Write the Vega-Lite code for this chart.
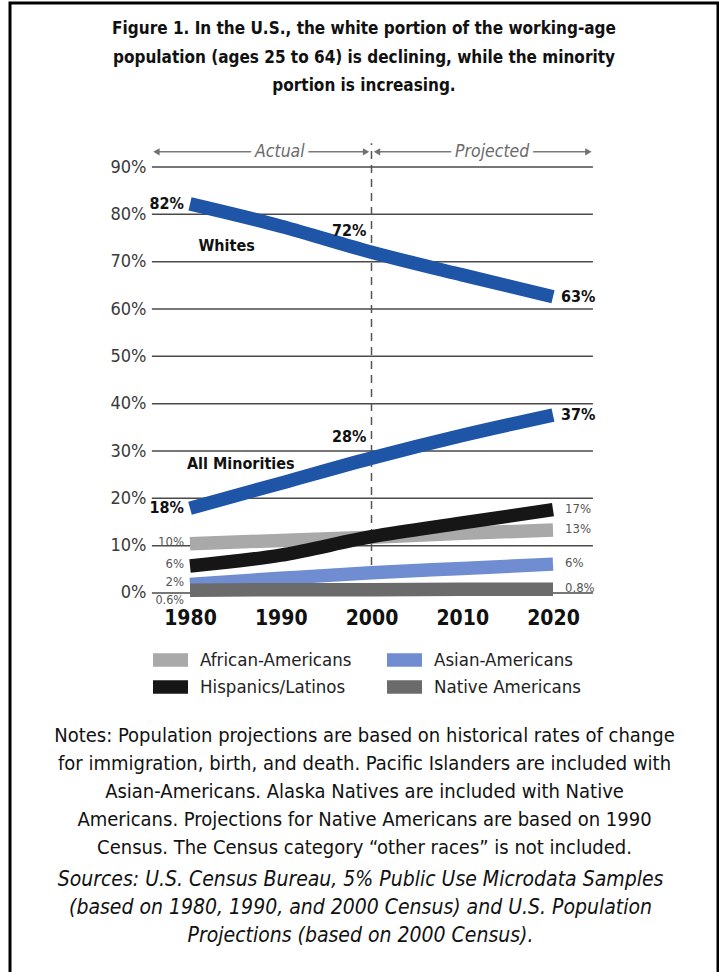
{
  "$schema": "https://vega.github.io/schema/vega-lite/v6.json",
  "width": 708,
  "height": 975,
  "autosize": "none",
  "padding": {"left": 10, "top": 3, "right": 1, "bottom": 0},
  "background": "white",
  "title": {
    "text": [
      "Figure 1. In the U.S., the white portion of the working-age",
      "population (ages 25 to 64) is declining, while the minority",
      "portion is increasing."
    ],
    "offset": -92,
    "anchor": "middle",
    "fontSize": 17,
    "fontWeight": "bold",
    "lineHeight": 28.5,
    "color": "#111111"
  },
  "datasets": {
    "shares": [
      {"series": "Whites", "year": 1980, "pct": 82.2, "label": "82%"},
      {"series": "Whites", "year": 1990, "pct": 77.5},
      {"series": "Whites", "year": 2000, "pct": 72, "label": "72%"},
      {"series": "Whites", "year": 2010, "pct": 67.2},
      {"series": "Whites", "year": 2020, "pct": 62.6, "label": "63%"},
      {"series": "All Minorities", "year": 1980, "pct": 17.9, "label": "18%"},
      {"series": "All Minorities", "year": 1990, "pct": 23.2},
      {"series": "All Minorities", "year": 2000, "pct": 28.5, "label": "28%"},
      {"series": "All Minorities", "year": 2010, "pct": 33.3},
      {"series": "All Minorities", "year": 2020, "pct": 37.6, "label": "37%"},
      {"series": "African-Americans", "year": 1980, "pct": 10.4, "label": "10%"},
      {"series": "African-Americans", "year": 1990, "pct": 11.1},
      {"series": "African-Americans", "year": 2000, "pct": 11.8},
      {"series": "African-Americans", "year": 2010, "pct": 12.6},
      {"series": "African-Americans", "year": 2020, "pct": 13.3, "label": "13%"},
      {"series": "Hispanics/Latinos", "year": 1980, "pct": 5.7, "label": "6%"},
      {"series": "Hispanics/Latinos", "year": 1990, "pct": 8},
      {"series": "Hispanics/Latinos", "year": 2000, "pct": 11.9},
      {"series": "Hispanics/Latinos", "year": 2010, "pct": 14.8},
      {"series": "Hispanics/Latinos", "year": 2020, "pct": 17.6, "label": "17%"},
      {"series": "Asian-Americans", "year": 1980, "pct": 1.8, "label": "2%"},
      {"series": "Asian-Americans", "year": 1990, "pct": 3.1},
      {"series": "Asian-Americans", "year": 2000, "pct": 4.3},
      {"series": "Asian-Americans", "year": 2010, "pct": 5.2},
      {"series": "Asian-Americans", "year": 2020, "pct": 6.1, "label": "6%"},
      {"series": "Native Americans", "year": 1980, "pct": 0.6, "label": "0.6%"},
      {"series": "Native Americans", "year": 1990, "pct": 0.7},
      {"series": "Native Americans", "year": 2000, "pct": 0.7},
      {"series": "Native Americans", "year": 2010, "pct": 0.8},
      {"series": "Native Americans", "year": 2020, "pct": 0.8, "label": "0.8%"}
    ],
    "grid": [
      {"pct": 0}, {"pct": 10}, {"pct": 20}, {"pct": 30}, {"pct": 40},
      {"pct": 50}, {"pct": 60}, {"pct": 70}, {"pct": 80}, {"pct": 90}
    ],
    "periods": [
      {"period": "Actual", "from": 1976.3, "to": 1999.4, "mid": 1989.9},
      {"period": "Projected", "from": 2000.6, "to": 2023.9, "mid": 2013.3}
    ]
  },
  "layer": [
    {
      "data": {"name": "periods"},
      "mark": {"type": "rule", "color": "#7a7a7a", "strokeWidth": 1.5},
      "encoding": {
        "x": {"field": "from", "type": "quantitative", "scale": {"domain": [1960.165, 2038.182], "nice": false, "zero": false}},
        "x2": {"field": "to"},
        "y": {"datum": 93.2, "type": "quantitative", "scale": {"domain": [-81.34, 124.65], "nice": false, "zero": false}}
      }
    },
    {
      "data": {"name": "periods"},
      "mark": {"type": "text", "fontSize": 17.5, "fontStyle": "italic", "color": "white", "stroke": "white", "strokeWidth": 10, "baseline": "middle"},
      "encoding": {
        "x": {"field": "mid", "type": "quantitative", "scale": {"domain": [1960.165, 2038.182], "nice": false, "zero": false}},
        "y": {"datum": 93.2, "type": "quantitative", "scale": {"domain": [-81.34, 124.65], "nice": false, "zero": false}},
        "text": {"field": "period"}
      }
    },
    {
      "data": {"name": "periods"},
      "mark": {"type": "text", "fontSize": 17.5, "fontStyle": "italic", "color": "#6a6a6a", "baseline": "middle"},
      "encoding": {
        "x": {"field": "mid", "type": "quantitative", "scale": {"domain": [1960.165, 2038.182], "nice": false, "zero": false}},
        "y": {"datum": 93.2, "type": "quantitative", "scale": {"domain": [-81.34, 124.65], "nice": false, "zero": false}},
        "text": {"field": "period"}
      }
    },
    {
      "data": {"name": "periods"},
      "mark": {"type": "point", "shape": "triangle-left", "filled": true, "size": 55, "color": "#707070", "opacity": 1},
      "encoding": {
        "x": {"field": "from", "type": "quantitative", "scale": {"domain": [1960.165, 2038.182], "nice": false, "zero": false}},
        "y": {"datum": 93.2, "type": "quantitative", "scale": {"domain": [-81.34, 124.65], "nice": false, "zero": false}}
      }
    },
    {
      "data": {"name": "periods"},
      "mark": {"type": "point", "shape": "triangle-right", "filled": true, "size": 55, "color": "#707070", "opacity": 1},
      "encoding": {
        "x": {"field": "to", "type": "quantitative", "scale": {"domain": [1960.165, 2038.182], "nice": false, "zero": false}},
        "y": {"datum": 93.2, "type": "quantitative", "scale": {"domain": [-81.34, 124.65], "nice": false, "zero": false}}
      }
    },
    {
      "data": {"name": "grid"},
      "mark": {"type": "rule", "color": "#4a4a4a", "strokeWidth": 1.5},
      "encoding": {
        "y": {
          "field": "pct",
          "type": "quantitative",
          "scale": {"domain": [-81.34, 124.65], "nice": false, "zero": false},
          "axis": {
            "values": [0, 10, 20, 30, 40, 50, 60, 70, 80, 90],
            "labelExpr": "datum.value + '%'",
            "offset": -142,
            "domain": false,
            "ticks": false,
            "grid": false,
            "labelPadding": 6,
            "labelFontSize": 18,
            "labelColor": "#3a3a3a",
            "labelOverlap": false,
            "labelFlush": false,
            "title": [
              "Sources: U.S. Census Bureau, 5% Public Use Microdata Samples",
              "(based on 1980, 1990, and 2000 Census) and U.S. Population",
              "Projections (based on 2000 Census)."
            ],
            "titleAngle": 0,
            "titleX": 208,
            "titleY": 865,
            "titleAlign": "center",
            "titleBaseline": "top",
            "titleFontStyle": "italic",
            "titleFontWeight": "normal",
            "titleFontSize": 21,
            "titleLineHeight": 28,
            "titleColor": "#111111"
          }
        },
        "x": {
          "datum": 1975.8,
          "type": "quantitative",
          "scale": {"domain": [1960.165, 2038.182], "nice": false, "zero": false},
          "axis": {
            "values": [1980, 1990, 2000, 2010, 2020],
            "format": "d",
            "offset": -385,
            "domain": false,
            "ticks": false,
            "grid": false,
            "labelPadding": 14,
            "labelFontSize": 21,
            "labelFontWeight": "bold",
            "labelColor": "#111111",
            "labelOverlap": false,
            "labelFlush": false,
            "title": [
              "Notes: Population projections are based on historical rates of change",
              "for immigration, birth, and death. Pacific Islanders are included with",
              "Asian-Americans. Alaska Natives are included with Native",
              "Americans. Projections for Native Americans are based on 1990",
              "Census. The Census category \u201cother races\u201d is not included."
            ],
            "titleY": 132,
            "titleBaseline": "top",
            "titleFontWeight": "normal",
            "titleFontSize": 20,
            "titleLineHeight": 28,
            "titleColor": "#111111"
          }
        },
        "x2": {"datum": 2024.4}
      }
    },
    {
      "data": {"values": [{}]},
      "mark": {"type": "rule", "color": "#555555", "strokeWidth": 1.5, "strokeDash": [8, 6]},
      "encoding": {
        "x": {"datum": 2000, "type": "quantitative", "scale": {"domain": [1960.165, 2038.182], "nice": false, "zero": false}},
        "y": {"datum": 0, "type": "quantitative", "scale": {"domain": [-81.34, 124.65], "nice": false, "zero": false}},
        "y2": {"datum": 95}
      }
    },
    {
      "data": {"name": "shares"},
      "mark": {"type": "line", "interpolate": "monotone", "strokeCap": "butt"},
      "encoding": {
        "x": {"field": "year", "type": "quantitative", "scale": {"domain": [1960.165, 2038.182], "nice": false, "zero": false}},
        "y": {"field": "pct", "type": "quantitative", "scale": {"domain": [-81.34, 124.65], "nice": false, "zero": false}},
        "color": {
          "field": "series",
          "type": "nominal",
          "scale": {
            "domain": ["Whites", "All Minorities", "African-Americans", "Asian-Americans", "Hispanics/Latinos", "Native Americans"],
            "range": ["#1f55a7", "#1f55a7", "#a9a9a9", "#6f8dd0", "#161616", "#6b6b6b"]
          },
          "legend": {
            "values": ["African-Americans", "Asian-Americans", "Hispanics/Latinos", "Native Americans"],
            "orient": "none",
            "direction": "horizontal",
            "legendX": 136,
            "legendY": 646,
            "columns": 2,
            "columnPadding": 28,
            "rowPadding": 5,
            "clipHeight": 22,
            "title": null,
            "symbolType": "stroke",
            "symbolSize": 1225,
            "symbolStrokeWidth": 7,
            "labelFontSize": 18.5,
            "labelLimit": 300,
            "labelColor": "#222222",
            "labelOffset": 5
          }
        },
        "strokeWidth": {
          "field": "series",
          "type": "nominal",
          "scale": {
            "domain": ["Whites", "All Minorities", "African-Americans", "Asian-Americans", "Hispanics/Latinos", "Native Americans"],
            "range": [13.5, 13.5, 7, 6.5, 8, 7]
          },
          "legend": null
        }
      }
    },
    {
      "data": {"name": "shares"},
      "transform": [{"filter": "datum.label && datum.year == 1980 && (datum.series == 'Whites' || datum.series == 'All Minorities')"}],
      "mark": {"type": "text", "align": "right", "baseline": "middle", "dx": -6, "fontSize": 16, "fontWeight": "bold", "color": "#111111"},
      "encoding": {
        "x": {"field": "year", "type": "quantitative", "scale": {"domain": [1960.165, 2038.182], "nice": false, "zero": false}},
        "y": {"field": "pct", "type": "quantitative", "scale": {"domain": [-81.34, 124.65], "nice": false, "zero": false}},
        "text": {"field": "label"}
      }
    },
    {
      "data": {"name": "shares"},
      "transform": [{"filter": "datum.label && datum.year == 2020 && (datum.series == 'Whites' || datum.series == 'All Minorities')"}],
      "mark": {"type": "text", "align": "left", "baseline": "middle", "dx": 8, "fontSize": 16, "fontWeight": "bold", "color": "#111111"},
      "encoding": {
        "x": {"field": "year", "type": "quantitative", "scale": {"domain": [1960.165, 2038.182], "nice": false, "zero": false}},
        "y": {"field": "pct", "type": "quantitative", "scale": {"domain": [-81.34, 124.65], "nice": false, "zero": false}},
        "text": {"field": "label"}
      }
    },
    {
      "data": {"name": "shares"},
      "transform": [{"filter": "datum.label && datum.year == 2000 && (datum.series == 'Whites' || datum.series == 'All Minorities')"}],
      "mark": {"type": "text", "align": "right", "baseline": "middle", "dx": -5, "dy": -21, "fontSize": 16, "fontWeight": "bold", "color": "#111111"},
      "encoding": {
        "x": {"field": "year", "type": "quantitative", "scale": {"domain": [1960.165, 2038.182], "nice": false, "zero": false}},
        "y": {"field": "pct", "type": "quantitative", "scale": {"domain": [-81.34, 124.65], "nice": false, "zero": false}},
        "text": {"field": "label"}
      }
    },
    {
      "data": {"name": "shares"},
      "transform": [{"filter": "datum.year == 1990 && datum.series == 'Whites'"}],
      "mark": {"type": "text", "align": "right", "baseline": "middle", "dx": -26, "dy": 20, "fontSize": 16, "fontWeight": "bold", "color": "#111111"},
      "encoding": {
        "x": {"field": "year", "type": "quantitative", "scale": {"domain": [1960.165, 2038.182], "nice": false, "zero": false}},
        "y": {"field": "pct", "type": "quantitative", "scale": {"domain": [-81.34, 124.65], "nice": false, "zero": false}},
        "text": {"field": "series"}
      }
    },
    {
      "data": {"name": "shares"},
      "transform": [{"filter": "datum.year == 1990 && datum.series == 'All Minorities'"}],
      "mark": {"type": "text", "align": "center", "baseline": "middle", "dx": -40, "dy": -19, "fontSize": 16, "fontWeight": "bold", "color": "#111111"},
      "encoding": {
        "x": {"field": "year", "type": "quantitative", "scale": {"domain": [1960.165, 2038.182], "nice": false, "zero": false}},
        "y": {"field": "pct", "type": "quantitative", "scale": {"domain": [-81.34, 124.65], "nice": false, "zero": false}},
        "text": {"field": "series"}
      }
    },
    {
      "data": {"name": "shares"},
      "transform": [{"filter": "datum.label && datum.year == 1980 && datum.series != 'Whites' && datum.series != 'All Minorities' && datum.series != 'Native Americans'"}],
      "mark": {"type": "text", "align": "right", "baseline": "middle", "dx": -6, "dy": -2, "fontSize": 13, "color": "#555555"},
      "encoding": {
        "x": {"field": "year", "type": "quantitative", "scale": {"domain": [1960.165, 2038.182], "nice": false, "zero": false}},
        "y": {"field": "pct", "type": "quantitative", "scale": {"domain": [-81.34, 124.65], "nice": false, "zero": false}},
        "text": {"field": "label"}
      }
    },
    {
      "data": {"name": "shares"},
      "transform": [{"filter": "datum.label && datum.year == 1980 && datum.series == 'Native Americans'"}],
      "mark": {"type": "text", "align": "right", "baseline": "middle", "dx": -6, "dy": 10, "fontSize": 12.5, "color": "#555555"},
      "encoding": {
        "x": {"field": "year", "type": "quantitative", "scale": {"domain": [1960.165, 2038.182], "nice": false, "zero": false}},
        "y": {"field": "pct", "type": "quantitative", "scale": {"domain": [-81.34, 124.65], "nice": false, "zero": false}},
        "text": {"field": "label"}
      }
    },
    {
      "data": {"name": "shares"},
      "transform": [{"filter": "datum.label && datum.year == 2020 && datum.series != 'Whites' && datum.series != 'All Minorities'"}],
      "mark": {"type": "text", "align": "left", "baseline": "middle", "dx": 12, "dy": -1, "fontSize": 13, "color": "#555555"},
      "encoding": {
        "x": {"field": "year", "type": "quantitative", "scale": {"domain": [1960.165, 2038.182], "nice": false, "zero": false}},
        "y": {"field": "pct", "type": "quantitative", "scale": {"domain": [-81.34, 124.65], "nice": false, "zero": false}},
        "text": {"field": "label"}
      }
    }
  ],
  "config": {
    "font": "DejaVu Sans Condensed, sans-serif",
    "view": {"stroke": "#000000", "strokeWidth": 3},
    "text": {"font": "DejaVu Sans Condensed, sans-serif"},
    "axis": {
      "labelFont": "DejaVu Sans Condensed, sans-serif",
      "titleFont": "DejaVu Sans Condensed, sans-serif"
    },
    "legend": {
      "labelFont": "DejaVu Sans Condensed, sans-serif"
    },
    "title": {
      "font": "DejaVu Sans Condensed, sans-serif"
    }
  }
}
